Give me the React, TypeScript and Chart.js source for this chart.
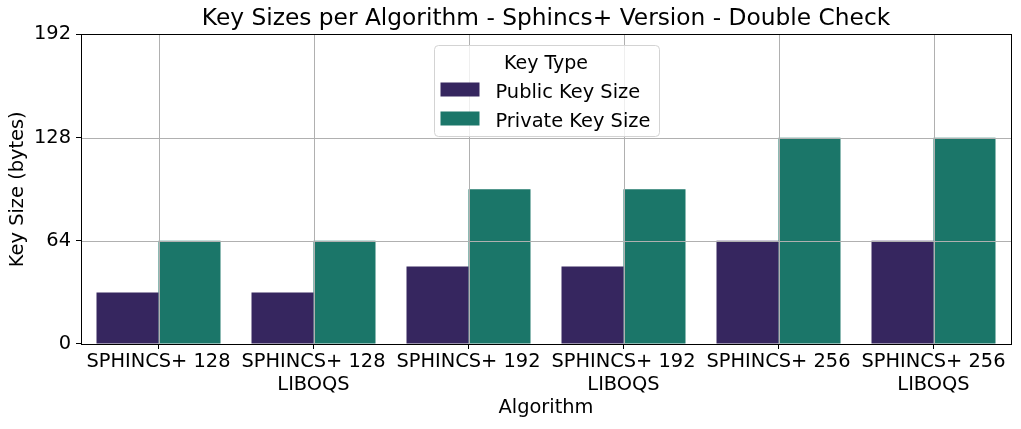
import React, { useEffect, useRef } from "react";
import { Chart, registerables } from "chart.js";

Chart.register(...registerables);

const categories: string[][] = [
  ["SPHINCS+ 128"],
  ["SPHINCS+ 128", "LIBOQS"],
  ["SPHINCS+ 192"],
  ["SPHINCS+ 192", "LIBOQS"],
  ["SPHINCS+ 256"],
  ["SPHINCS+ 256", "LIBOQS"],
];
const publicKeySizes = [32, 32, 48, 48, 64, 64];
const privateKeySizes = [64, 64, 96, 96, 128, 128];
const yTicks = [0, 64, 128, 192];
const seriesLabels = ["Public Key Size", "Private Key Size"];
const seriesColors = ["#36265f", "#1b7669"];
const legendTitle = "Key Type";
const chartTitle = "Key Sizes per Algorithm - Sphincs+ Version - Double Check";
const xTitle = "Algorithm";
const yTitle = "Key Size (bytes)";

const FONT = "'DejaVu Sans', sans-serif";

const gridAndSpines = {
  id: "gridAndSpines",
  afterDatasetsDraw(chart: any) {
    const { ctx, chartArea: ca, scales } = chart;
    const x = scales.x;
    const y = scales.y;
    ctx.save();
    ctx.strokeStyle = "#b0b0b0";
    ctx.lineWidth = 1;
    for (let i = 0; i < categories.length; i++) {
      const px = Math.round(x.getPixelForTick(i)) + 0.5;
      ctx.beginPath();
      ctx.moveTo(px, ca.top);
      ctx.lineTo(px, ca.bottom);
      ctx.stroke();
    }
    for (const v of yTicks) {
      const py = Math.round(y.getPixelForValue(v)) + 0.5;
      ctx.beginPath();
      ctx.moveTo(ca.left, py);
      ctx.lineTo(ca.right, py);
      ctx.stroke();
    }
    ctx.strokeStyle = "#000";
    ctx.lineWidth = 1;
    ctx.strokeRect(
      Math.round(ca.left) + 0.5,
      Math.round(ca.top) + 0.5,
      Math.round(ca.right) - Math.round(ca.left),
      Math.round(ca.bottom) - Math.round(ca.top)
    );
    ctx.restore();
  },
  afterDraw(chart: any) {
    const { ctx, chartArea: ca } = chart;
    const cx = (ca.left + ca.right) / 2;
    const boxW = 225;
    const boxH = 91;
    const bx = Math.round(cx - boxW / 2) + 0.5;
    const by = Math.round(ca.top + 11) + 0.5;
    ctx.save();
    ctx.beginPath();
    ctx.roundRect(bx, by, boxW, boxH, 4);
    ctx.fillStyle = "rgba(255,255,255,0.8)";
    ctx.fill();
    ctx.strokeStyle = "#d3d3d3";
    ctx.lineWidth = 1;
    ctx.stroke();
    ctx.fillStyle = "#000";
    ctx.font = `19px ${FONT}`;
    ctx.textAlign = "center";
    ctx.textBaseline = "alphabetic";
    ctx.fillText(legendTitle, cx, by + 23);
    ctx.textAlign = "left";
    ctx.font = `19.4px ${FONT}`;
    const datasets = chart.data.datasets;
    datasets.forEach((ds: any, i: number) => {
      const sy = by + 37 + i * 29;
      ctx.fillStyle = ds.backgroundColor;
      ctx.fillRect(bx + 6, sy, 39, 14);
      ctx.fillStyle = "#000";
      ctx.fillText(ds.label, bx + 61, sy + 15.5);
    });
    ctx.restore();
  },
};

export default function App() {
  const ref = useRef<HTMLCanvasElement | null>(null);
  useEffect(() => {
    document.body.style.margin = "0";
    const canvas = ref.current!;
    const chart = new Chart(canvas, {
      type: "bar",
      data: {
        labels: categories,
        datasets: [
          {
            label: seriesLabels[0],
            data: publicKeySizes,
            backgroundColor: seriesColors[0],
            borderWidth: 0,
            categoryPercentage: 0.8,
            barPercentage: 1.0,
          },
          {
            label: seriesLabels[1],
            data: privateKeySizes,
            backgroundColor: seriesColors[1],
            borderWidth: 0,
            categoryPercentage: 0.8,
            barPercentage: 1.0,
          },
        ],
      },
      options: {
        responsive: false,
        animation: false,
        layout: { padding: { left: 0, right: 10, top: 0, bottom: 0 } },
        plugins: {
          legend: { display: false },
          tooltip: { enabled: false },
          title: {
            display: true,
            text: chartTitle,
            color: "#000",
            fullSize: false,
            font: { family: FONT, size: 23.3, weight: "normal", lineHeight: 1.2 },
            padding: { top: 5, bottom: 1.5 },
          },
        },
        scales: {
          x: {
            type: "category",
            offset: true,
            grid: {
              display: true,
              drawOnChartArea: false,
              drawTicks: true,
              tickLength: 5,
              tickColor: "#000",
              offset: false,
            },
            border: { display: false },
            ticks: {
              color: "#000",
              padding: 2,
              maxRotation: 0,
              autoSkip: false,
              font: { family: FONT, size: 19.4, lineHeight: 1.17 },
            },
            title: {
              display: true,
              text: xTitle,
              color: "#000",
              font: { family: FONT, size: 19.4, lineHeight: 1.2 },
              padding: { top: 0, bottom: 9 },
            },
            afterFit(scale: any) {
              scale.height = 85;
            },
          },
          y: {
            min: 0,
            max: 192,
            afterBuildTicks(scale: any) {
              scale.ticks = yTicks.map((v) => ({ value: v }));
            },
            grid: {
              display: true,
              drawOnChartArea: false,
              drawTicks: true,
              tickLength: 5,
              tickColor: "#000",
            },
            border: { display: false },
            ticks: {
              color: "#000",
              padding: 5,
              font: { family: FONT, size: 19.4 },
            },
            title: {
              display: true,
              text: yTitle,
              color: "#000",
              font: { family: FONT, size: 19.4, lineHeight: 1.2 },
              padding: { top: 6, bottom: 0 },
            },
            afterFit(scale: any) {
              scale.width = 81;
            },
          },
        },
      },
      plugins: [gridAndSpines],
    });
    return () => chart.destroy();
  }, []);
  return <canvas ref={ref} width={1021} height={429} style={{ display: "block" }} />;
}
